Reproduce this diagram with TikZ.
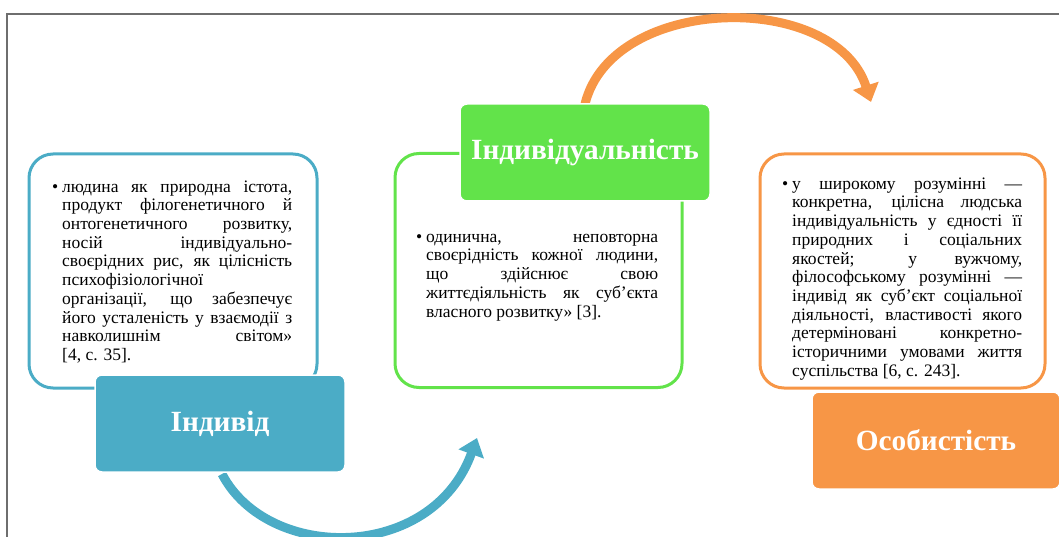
\documentclass[tikz,border=0pt]{standalone}
\usepackage{fontspec}
\setmainfont{Liberation Serif}
\usetikzlibrary{arrows.meta}
\definecolor{cblue}{HTML}{4BACC6}
\definecolor{cgreen}{HTML}{62E34A}
\definecolor{corange}{HTML}{F79646}
\definecolor{cframe}{HTML}{6E6E6E}
\tikzset{
  outbox/.style={draw=#1, line width=3pt, rounded corners=24pt, fill=white, inner sep=0pt},
  headbox/.style={fill=#1, draw=white, line width=1.5pt, rounded corners=7pt, inner sep=0pt,
    text=white, font=\fontsize{29.3}{32}\selectfont\bfseries},
  bodytext/.style={inner sep=0pt, anchor=north west, align=justify,
    font=\fontsize{17.5}{18.7}\selectfont},
  arc/.style={line width=9pt, draw=#1, -{Triangle[length=17pt,width=26pt]}},
}
\newcommand{\bul}{\leavevmode\llap{•\hspace{4pt}}\rule{0pt}{16pt}}
\begin{document}
\begin{tikzpicture}[x=1pt,y=-1pt]
\useasboundingbox (0,0) rectangle (1059,537);
% frame
\draw[cframe, line width=1.5pt] (7,537) -- (7,14) -- (1059,14);

% connector anchors
\coordinate (a1s) at (222,474);
\coordinate (a1e) at (477,438);
\coordinate (a2s) at (585,104);
\coordinate (a2e) at (871,102);
\draw[arc=cblue] (a1s) .. controls (268,562) and (432,562) .. (a1e);
\draw[arc=corange] (a2s) .. controls (612,-6) and (835,-10) .. (a2e);

% outline boxes
\node[outbox=cblue, minimum width=288pt, minimum height=234pt] (b1) at (173,271) {};
\node[outbox=cgreen, minimum width=287pt, minimum height=234pt] (b2) at (538.5,270.5) {};
\node[outbox=corange, minimum width=285pt, minimum height=234pt] (b3) at (902.5,271) {};

% body texts
\node[bodytext, text width=230pt] (t1) at (62,176) {\bul людина як природна істота,\linebreak{}
продукт філогенетичного й\linebreak{}
онтогенетичного розвитку,\linebreak{}
носій індивідуально-\linebreak{}
своєрідних рис, як цілісність\linebreak{}
психофізіологічної\linebreak{}
організації, що забезпечує\linebreak{}
його усталеність у взаємодії з\linebreak{}
навколишнім світом»\linebreak{}
[4, с. 35].};

\node[bodytext, text width=232pt] (t2) at (426,226) {\bul одинична, неповторна\linebreak{}
своєрідність кожної людини,\linebreak{}
що здійснює свою\linebreak{}
життєдіяльність як суб’єкта\linebreak{}
власного розвитку» [3].};

\node[bodytext, text width=230pt] (t3) at (792,173) {\bul у широкому розумінні —\linebreak{}
конкретна, цілісна людська\linebreak{}
індивідуальність у єдності її\linebreak{}
природних і соціальних\linebreak{}
якостей; у вужчому,\linebreak{}
філософському розумінні —\linebreak{}
індивід як суб’єкт соціальної\linebreak{}
діяльності, властивості якого\linebreak{}
детерміновані конкретно-\linebreak{}
історичними умовами життя\linebreak{}
суспільства [6, с. 243].};

% header boxes
\node[headbox=cblue, minimum width=250pt, minimum height=97pt] (h1) at (220,423.5) {Індивід};
\node[headbox=cgreen, minimum width=250pt, minimum height=97pt] (h2) at (585,152.5) {Індивідуальність};
\node[headbox=corange, minimum width=248pt, minimum height=97pt] (h3) at (936,440.5) {Особистість};
\end{tikzpicture}
\end{document}
